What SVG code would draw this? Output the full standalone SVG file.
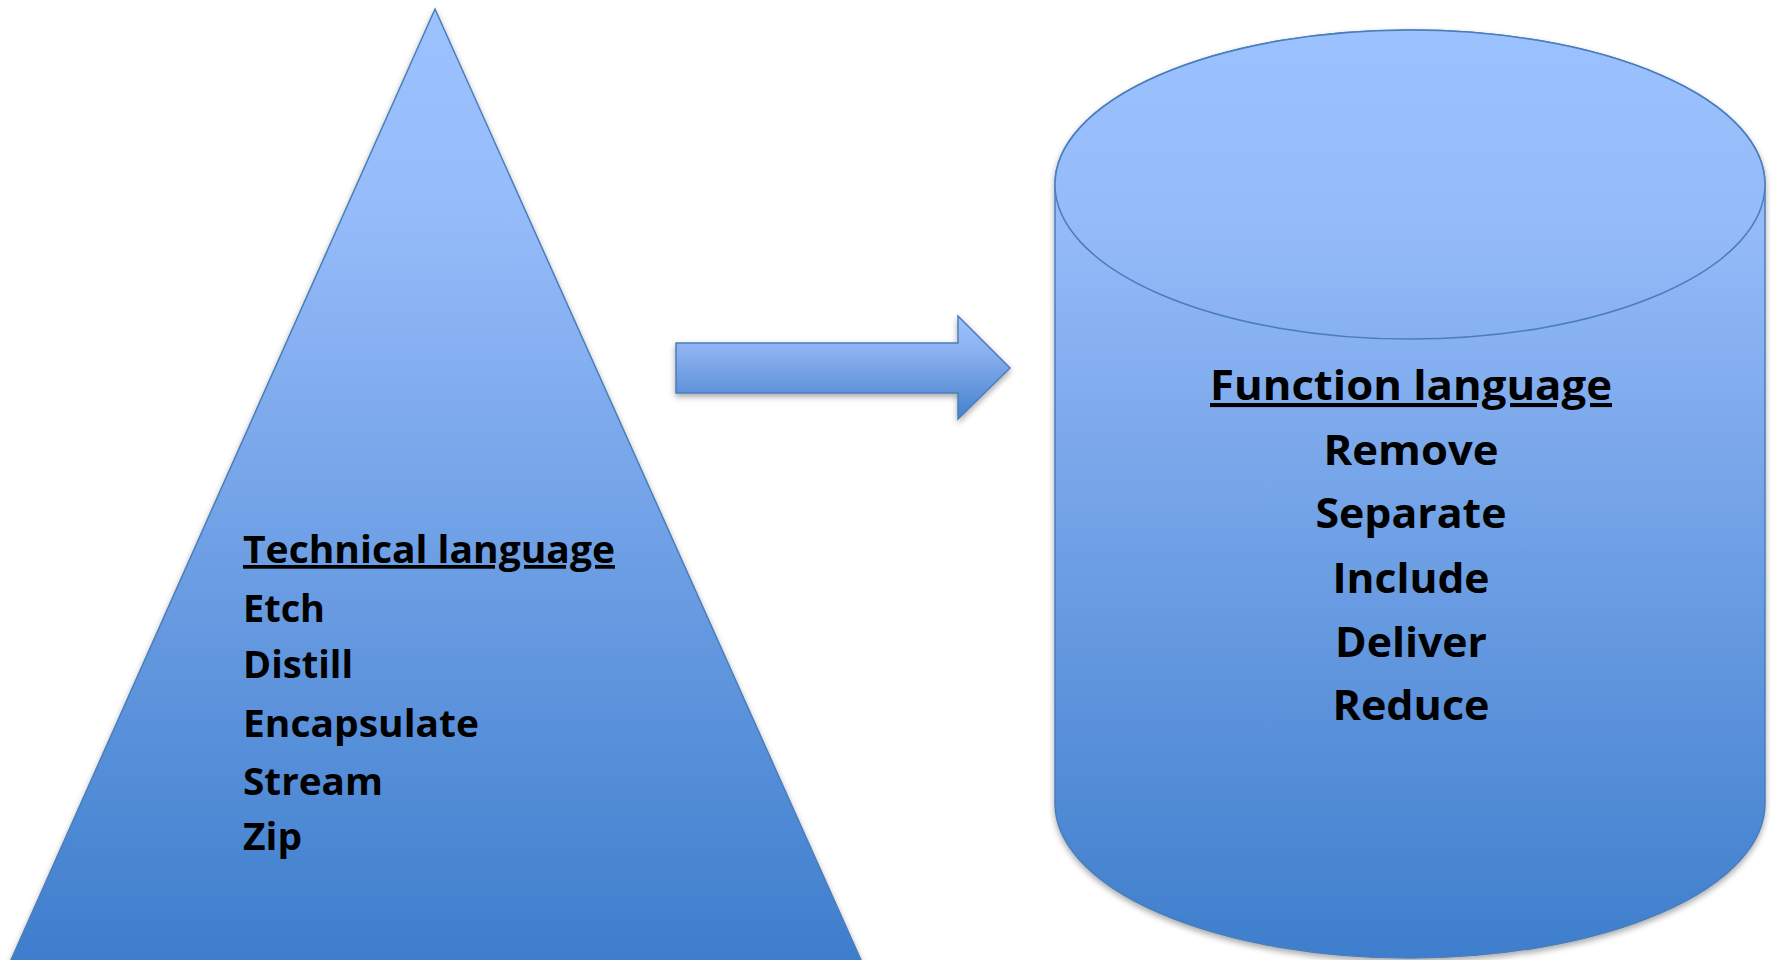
<svg xmlns="http://www.w3.org/2000/svg" width="1771" height="960" viewBox="0 0 1771 960">
  <defs>
    <linearGradient id="gTri" gradientUnits="userSpaceOnUse" x1="0" y1="9" x2="0" y2="960">
      <stop offset="0" stop-color="#9cc1ff"/>
      <stop offset="0.2" stop-color="#97bcfa"/>
      <stop offset="1" stop-color="#3e7ecc"/>
    </linearGradient>
    <linearGradient id="gCyl" gradientUnits="userSpaceOnUse" x1="0" y1="30" x2="0" y2="958">
      <stop offset="0" stop-color="#9cc1ff"/>
      <stop offset="0.2" stop-color="#96bbf9"/>
      <stop offset="1" stop-color="#3e7ecc"/>
    </linearGradient>
    <linearGradient id="gArrow" x1="0" y1="0" x2="0" y2="1">
      <stop offset="0" stop-color="#9dc2ff"/>
      <stop offset="0.35" stop-color="#8ab0f0"/>
      <stop offset="1" stop-color="#4480cc"/>
    </linearGradient>
    <filter id="shadow" x="-10%" y="-10%" width="120%" height="120%">
      <feGaussianBlur in="SourceAlpha" stdDeviation="3"/>
      <feOffset dx="0" dy="3" result="b"/>
      <feComponentTransfer><feFuncA type="linear" slope="0.35"/></feComponentTransfer>
      <feMerge><feMergeNode/><feMergeNode in="SourceGraphic"/></feMerge>
    </filter>
  </defs>
  <style>
    .shape { stroke: #4a7ebb; stroke-width: 1.5; stroke-linejoin: miter; }
    .lbl { font-family: "Open Sans", "Liberation Sans", sans-serif; font-weight: bold; fill: #000000; }
    .left { font-size: 37px; }
    .right { font-size: 41px; text-anchor: middle; }
    .ul { text-decoration: underline; }
  </style>
  <rect width="1771" height="960" fill="#ffffff"/>

  <g id="node-technical">
    <polygon class="shape" points="435,9 861,960 11,960" fill="url(#gTri)" filter="url(#shadow)"/>
    <text class="lbl left ul" x="243" y="563" textLength="372" lengthAdjust="spacingAndGlyphs">Technical language</text>
    <text class="lbl left" x="243" y="622" textLength="82" lengthAdjust="spacingAndGlyphs">Etch</text>
    <text class="lbl left" x="243" y="678" textLength="110" lengthAdjust="spacingAndGlyphs">Distill</text>
    <text class="lbl left" x="243" y="737" textLength="236" lengthAdjust="spacingAndGlyphs">Encapsulate</text>
    <text class="lbl left" x="243" y="795" textLength="140" lengthAdjust="spacingAndGlyphs">Stream</text>
    <text class="lbl left" x="243" y="850" textLength="59" lengthAdjust="spacingAndGlyphs">Zip</text>
  </g>

  <g id="node-function">
    <path class="shape" d="M1055,184.5 A355,154.5 0 0 1 1765,184.5 L1765,803.5 A355,154.5 0 0 1 1055,803.5 Z" fill="url(#gCyl)" filter="url(#shadow)"/>
    <ellipse class="shape" cx="1410" cy="184.5" rx="355" ry="154.5" fill="url(#gCyl)"/>
    <text class="lbl right ul" x="1411" y="400" textLength="402" lengthAdjust="spacingAndGlyphs">Function language</text>
    <text class="lbl right" x="1411" y="465" textLength="175" lengthAdjust="spacingAndGlyphs">Remove</text>
    <text class="lbl right" x="1411" y="528" textLength="191" lengthAdjust="spacingAndGlyphs">Separate</text>
    <text class="lbl right" x="1411" y="593" textLength="157" lengthAdjust="spacingAndGlyphs">Include</text>
    <text class="lbl right" x="1411" y="657" textLength="152" lengthAdjust="spacingAndGlyphs">Deliver</text>
    <text class="lbl right" x="1411" y="720" textLength="157" lengthAdjust="spacingAndGlyphs">Reduce</text>
  </g>

  <g id="connectors">
    <polygon class="shape" points="676,343 958,343 958,316 1010,368 958,419 958,393 676,393" fill="url(#gArrow)" filter="url(#shadow)"/>
  </g>
</svg>
